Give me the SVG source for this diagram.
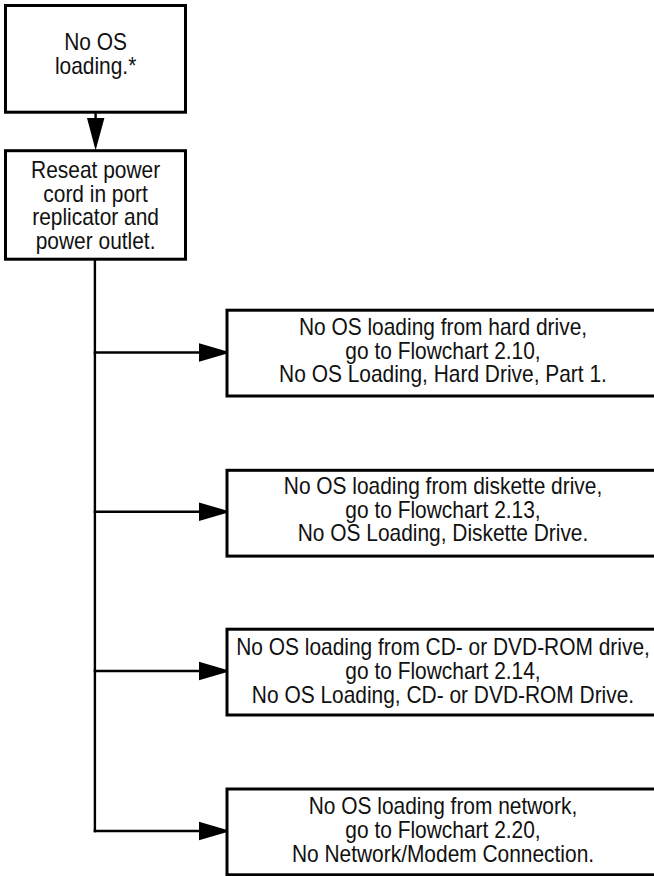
<svg xmlns="http://www.w3.org/2000/svg" width="654" height="876" viewBox="0 0 654 876">
<style>
  .box { fill: #ffffff; stroke: #000000; stroke-width: 3; }
  .wire { fill: none; stroke: #000000; stroke-width: 2.4; }
  .head { fill: #000000; stroke: none; }
  .t { font-family: "Liberation Sans", Arial, sans-serif; font-size: 23px; fill: #111111; text-anchor: middle; }
</style>
<rect width="654" height="876" fill="#ffffff"/>

<g id="connectors">
  <line class="wire" x1="95.6" y1="112" x2="95.6" y2="120"/>
  <polygon class="head" points="87,118 104.4,118 95.6,150.5"/>
  <polyline class="wire" points="94.9,259 94.9,832.2"/>
  <line class="wire" x1="93.7" y1="352.5" x2="201" y2="352.5"/>
  <polygon class="head" points="199,343.3 199,361.7 230.7,352.5"/>
  <line class="wire" x1="93.7" y1="511.7" x2="201" y2="511.7"/>
  <polygon class="head" points="199,502.5 199,520.9 230.7,511.7"/>
  <line class="wire" x1="93.7" y1="671" x2="201" y2="671"/>
  <polygon class="head" points="199,661.8 199,680.2 230.7,671"/>
  <line class="wire" x1="93.7" y1="831" x2="201" y2="831"/>
  <polygon class="head" points="199,821.8 199,840.2 230.7,831"/>
</g>

<g id="node-start">
  <rect class="box" x="5.5" y="5.5" width="180" height="106.7"/>
  <g transform="translate(95.6,0) scale(0.91,1)">
    <text class="t" x="0" y="50.5">No OS</text>
    <text class="t" x="0" y="74.3">loading.*</text>
  </g>
</g>

<g id="node-reseat">
  <rect class="box" x="5.5" y="150.7" width="180" height="108.5"/>
  <g transform="translate(95.6,0) scale(0.91,1)">
    <text class="t" x="0" y="178">Reseat power</text>
    <text class="t" x="0" y="201.6">cord in port</text>
    <text class="t" x="0" y="225.2">replicator and</text>
    <text class="t" x="0" y="248.8">power outlet.</text>
  </g>
</g>

<g id="node-hard-drive">
  <rect class="box" x="227" y="310.2" width="440" height="85.8"/>
  <g transform="translate(443,0) scale(0.91,1)">
    <text class="t" x="0" y="335">No OS loading from hard drive,</text>
    <text class="t" x="0" y="358.8">go to Flowchart 2.10,</text>
    <text class="t" x="0" y="382.5">No OS Loading, Hard Drive, Part 1.</text>
  </g>
</g>

<g id="node-diskette">
  <rect class="box" x="227" y="470.3" width="440" height="85.8"/>
  <g transform="translate(443,0) scale(0.91,1)">
    <text class="t" x="0" y="494">No OS loading from diskette drive,</text>
    <text class="t" x="0" y="517.7">go to Flowchart 2.13,</text>
    <text class="t" x="0" y="541.4">No OS Loading, Diskette Drive.</text>
  </g>
</g>

<g id="node-cd">
  <rect class="box" x="227" y="629.2" width="440" height="85.8"/>
  <g transform="translate(443,0) scale(0.91,1)">
    <text class="t" x="0" y="655.3">No OS loading from CD- or DVD-ROM drive,</text>
    <text class="t" x="0" y="679.1">go to Flowchart 2.14,</text>
    <text class="t" x="0" y="702.9">No OS Loading, CD- or DVD-ROM Drive.</text>
  </g>
</g>

<g id="node-network">
  <rect class="box" x="227" y="789" width="440" height="85.8"/>
  <g transform="translate(443,0) scale(0.91,1)">
    <text class="t" x="0" y="814.5">No OS loading from network,</text>
    <text class="t" x="0" y="838.2">go to Flowchart 2.20,</text>
    <text class="t" x="0" y="861.9">No Network/Modem Connection.</text>
  </g>
</g>
</svg>
